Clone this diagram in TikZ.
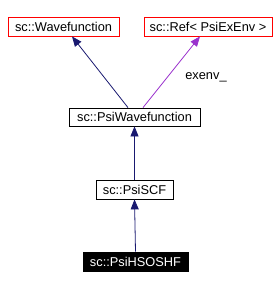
\documentclass[tikz,border=0pt]{standalone}
\usepackage{fontspec}
\setmainfont{Liberation Sans}
\usetikzlibrary{arrows.meta}
\definecolor{navy}{HTML}{191970}
\definecolor{orchid}{HTML}{9A32CD}
\begin{document}
\begin{tikzpicture}[x=1pt,y=-1pt,
  cls/.style={draw=black,line width=0.8pt,inner sep=0pt,minimum height=19pt,font=\fontsize{12.8}{14}\selectfont},
  ext/.style={cls,draw=red},
  cur/.style={cls,fill=black,text=white},
  inh/.style={draw=navy,line width=0.8pt,-{Triangle[length=10pt,width=8pt]}},
  use/.style={draw=orchid,line width=0.8pt,-{Triangle[length=10pt,width=8pt]}}]
\useasboundingbox (0,0) rectangle (278,289);
\node[ext,minimum width=111pt] (wf) at (63.5,26.5) {sc::Wavefunction};
\node[ext,minimum width=128pt] (ref) at (208,26.5) {sc::Ref< PsiExEnv >};
\node[cls,minimum width=131pt,minimum height=18pt] (pw) at (134.5,117) {sc::PsiWavefunction};
\node[cls,minimum width=77pt] (scf) at (134.5,189.5) {sc::PsiSCF};
\node[cur,minimum width=105pt] (hs) at (135.5,261.5) {sc::PsiHSOSHF};
\draw[inh] ([xshift=-6.5pt]pw.north) -- ([xshift=8.5pt]wf.south);
\draw[use] ([xshift=8.5pt]pw.north) -- ([xshift=-8pt]ref.south);
\node[font=\fontsize{12.8}{14}\selectfont,inner sep=0pt] (lbl) at (206,77) {exenv\_};
\draw[inh] (scf.north) -- (pw.south);
\draw[inh] (hs.north) -- (scf.south);
\end{tikzpicture}
\end{document}
